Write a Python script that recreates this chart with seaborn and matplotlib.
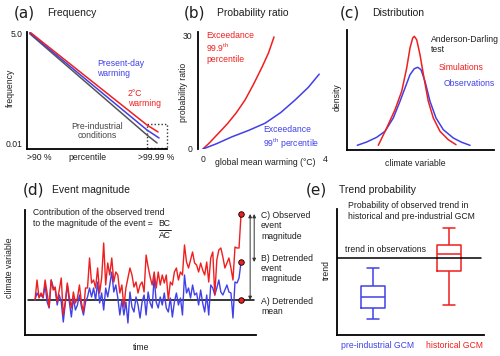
import pandas as pd
import matplotlib
matplotlib.use("Agg")
import matplotlib.pyplot as plt
from matplotlib.lines import Line2D
from matplotlib.patches import Rectangle
from matplotlib.ticker import NullLocator
import seaborn as sns

RED = "#f01e1e"
BLUE = "#4040e8"
GREY = "#555555"
INK = "#1e1e1e"

# (a) frequency vs percentile, log scale
pct_red = [0.02, 0.857, 0.936]
freq_red = [5.3, 0.0288, 0.0195]
pct_blue = [0.02, 0.857, 0.943]
freq_blue = [5.0, 0.0218, 0.0139]
pct_grey = [0.02, 0.857, 0.929]
freq_grey = [4.8, 0.0164, 0.0105]
pct_ticks = [0.086, 0.43, 0.92]
pct_labels = [">90 %", "percentile", ">99.99 %"]
freq_ticks = [0.01, 5.0]
freq_labels = ["0.01", "5.0"]

# (b) probability ratio vs global mean warming
gmw_red = [0, 0.2, 0.4, 0.6, 0.82, 1.1, 1.38, 1.65, 1.94, 2.15, 2.33]
pr_red = [0, 1.5, 3.2, 4.9, 6.8, 9.6, 12.9, 16.9, 21.6, 25.3, 29.5]
gmw_blue = [0, 0.45, 0.95, 1.5, 2.04, 2.55, 3.02, 3.45, 3.81]
pr_blue = [0, 1.4, 3.2, 4.9, 6.8, 9.6, 12.9, 16.2, 19.7]

# (c) distributions
var_sim = [3.13, 3.97, 4.80, 5.47, 5.97, 6.30, 6.57, 6.73, 6.97, 7.30, 7.70,
           8.13, 8.63, 9.30, 10.13, 10.90]
dens_sim = [0.47, 2.20, 4.03, 5.87, 8.20, 10.20, 11.20, 11.37, 11.03, 9.53, 7.20,
            4.87, 3.20, 1.87, 1.03, 0.53]
var_obs = [1.03, 1.97, 2.97, 3.80, 4.63, 5.30, 5.80, 6.30, 6.73, 7.07, 7.40,
           7.80, 8.30, 8.90, 9.63, 10.63, 11.47, 12.30]
dens_obs = [0.47, 0.80, 1.27, 1.87, 3.20, 4.87, 6.20, 7.53, 8.13, 8.27, 8.03,
            6.87, 4.87, 3.20, 2.03, 1.20, 0.77, 0.47]

# (d) observed and detrended series
observed = [0, 20, 2, 7, 3, 20, 7, -7, 20, 10, 13, -2, 10, 22, -15, -2, 17, 3, -8, 8,
            -3, 2, 15, -3, -12, 12, 12, 42, 17, 20, 12, 32, 7, 22, 57, 15, 37, 25, 42, 18,
            28, 25, 7, 15, -7, 12, 22, 32, 25, 13, 18, 7, 15,
            18, 8, 45, 33, 23, 15, 28, 12, 28, 15, 25, 17, 25, 0, 18, 15, 28, 32, 20, 28,
            25, 55, 38, 32, 40, 48, 37, 35, 28, 37, 30, 25, 38, 18, 42, 48, 5, 40, 50, 52,
            43, 32, 37, 42, 32, 20, 53, 52, 52, 86]
detrended = [0, 7, 3, 5, 2, 15, -2, -8, 20, 13, 10, -5, 5, -2, -22, -3, 15, -2, -17, 2,
             -10, -5, 5, -7, -15, -2, 3, 12, 3, 12, 0, 18, -3, 7, -10, 12, 3, 15, 28, 8,
             15, 2, -15, 0, -15, -2, -23, 8, -7, -12, 3, -5, -18,
             -2, 5, -15, 8, -3, -8, 23, -2, -8, 3, -5, 7, -8, -12, 2, -17, -2, 7, -5, 2,
             -15, 25, 7, 12, 2, 15, 5, 7, -5, 10, -3, -12, 5, -15, 15, 12, 5, 12, 20, 8,
             5, 10, 15, 8, 7, -18, 18, 17, 22, 38]
detrended_mean = 0

# (e) trend distributions in GCMs
gcm_names = ["pre-industrial GCM", "historical GCM"]
trend_preind = [1.28, 2.16, 3.04, 3.92, 5.36]
trend_hist = [2.4, 5.12, 6.48, 7.2, 8.56]
trend_obs = 6.16

sns.set_theme(style="white")
plt.rcParams["font.family"] = ["Liberation Sans", "DejaVu Sans"]
plt.rcParams["mathtext.fontset"] = "custom"
plt.rcParams["mathtext.rm"] = "Liberation Sans"
plt.rcParams["mathtext.it"] = "Liberation Sans:italic"

W, H = 500, 356
FS = 6.2
fig = plt.figure(figsize=(W / 100, H / 100), dpi=100)


def px_ax(l, t, r, b):
    return fig.add_axes([l / W, 1 - b / H, (r - l) / W, (b - t) / H])


def ftext(x, y, s, **kw):
    kw.setdefault("fontsize", FS)
    kw.setdefault("ha", "left")
    kw.setdefault("va", "center")
    kw.setdefault("color", INK)
    fig.text(x / W, 1 - y / H, s, **kw)


def style_spines(ax, sides=("left", "bottom")):
    for side, sp in ax.spines.items():
        sp.set_visible(side in sides)
        sp.set_color("black")
        sp.set_linewidth(1.3)


def title(xc, xl, y, label, text):
    ftext(xc, y, label, fontsize=11, family="DejaVu Sans", ha="center")
    ftext(xl, y, text, fontsize=7.5)


# ---- (a)
ax = px_ax(27, 32, 167, 149)
sns.lineplot(x=pct_grey, y=freq_grey, color=GREY, lw=1.1, sort=False, ax=ax)
sns.lineplot(x=pct_blue, y=freq_blue, color=BLUE, lw=1.1, sort=False, ax=ax)
sns.lineplot(x=pct_red, y=freq_red, color=RED, lw=1.1, sort=False, ax=ax)
ax.set_yscale("log")
ax.set_ylim(0.0075, 5.3)
ax.set_xlim(0, 1)
ax.yaxis.set_minor_locator(NullLocator())
ax.set_yticks(freq_ticks, freq_labels)
ax.set_xticks(pct_ticks, pct_labels)
ax.tick_params(length=0, labelsize=FS, pad=3, colors=INK)
ax.add_patch(Rectangle((0.857, 0.0079), 0.143, 0.0305 - 0.0079, fill=False,
                       ls=(0, (1, 1.5)), lw=1.0, ec="#333333", clip_on=False))
style_spines(ax)
title(24, 47, 13, "(a)", "Frequency")
ftext(10, 88, "frequency", rotation=90, ha="center")
ftext(97, 68.5, "Present-day\nwarming", color=BLUE)
ftext(128, 98.5, "2°C\nwarming", color=RED)
ftext(97.5, 131, "Pre-industrial\nconditions", color="#444444", ha="center", linespacing=1.0)

# ---- (b)
ax = px_ax(198, 32, 325, 149)
sns.lineplot(x=gmw_red, y=pr_red, color=RED, lw=1.1, sort=False, ax=ax)
sns.lineplot(x=gmw_blue, y=pr_blue, color=BLUE, lw=1.1, sort=False, ax=ax)
ax.set_xlim(-0.16, 4.0)
ax.set_ylim(0, 30.8)
ax.set_xticks([0, 4])
ax.set_yticks([0, 30])
ax.tick_params(length=0, labelsize=FS, pad=4, colors=INK)
style_spines(ax, ("left",))
title(194.5, 217, 13, "(b)", "Probability ratio")
ftext(183, 92, "probability ratio", rotation=90, ha="center")
ftext(265, 163, "global mean warming (°C)", ha="center")
ftext(206, 47.5, "Exceedance\n99.9$^{\\rm th}$\npercentile", color=RED)
ftext(263, 138, "Exceedance\n99$^{\\rm th}$ percentile", color=BLUE)

# ---- (c)
ax = px_ax(347, 30, 494, 150)
sns.lineplot(x=var_obs, y=dens_obs, color=BLUE, lw=1.1, sort=False, ax=ax)
sns.lineplot(x=var_sim, y=dens_sim, color=RED, lw=1.1, sort=False, ax=ax)
ax.set_xlim(0, 14.7)
ax.set_ylim(0, 12)
ax.set_xticks([])
ax.set_yticks([])
ax.set_xlabel("")
ax.set_ylabel("")
style_spines(ax)
title(349.5, 372, 13, "(c)", "Distribution")
ftext(337, 97, "density", rotation=90, ha="center")
ftext(415, 164, "climate variable", ha="center")
ftext(431, 44.5, "Anderson-Darling\ntest")
ftext(439, 67, "Simulations", color=RED)
ftext(444, 83, "Observations", color=BLUE)

# ---- (d)
ax = px_ax(25, 210, 256, 335)
steps = list(range(len(observed)))
ax.axhline(detrended_mean, xmin=0.013, xmax=0.99, color="black", lw=1.1)
sns.lineplot(x=steps, y=detrended, color=BLUE, lw=1.0, ax=ax)
sns.lineplot(x=steps, y=observed, color=RED, lw=1.0, ax=ax)
last = steps[-1]
sns.scatterplot(x=[last] * 3, y=[observed[-1], detrended[-1], detrended_mean],
                color=RED, edgecolor="black", linewidth=0.6, s=16, zorder=5, ax=ax)
ax.set_xlim(-4.95, 109.4)
ax.set_ylim(-35, 90)
ax.annotate("", xy=(last + 4.5, detrended_mean), xytext=(last + 4.5, observed[-1]),
            arrowprops=dict(arrowstyle="<|-|>", color="#333333", lw=0.7,
                            mutation_scale=5, shrinkA=0, shrinkB=0),
            annotation_clip=False)
ax.annotate("", xy=(last + 6.5, detrended[-1]), xytext=(last + 6.5, observed[-1]),
            arrowprops=dict(arrowstyle="<|-|>", color="#333333", lw=0.7,
                            mutation_scale=5, shrinkA=0, shrinkB=0),
            annotation_clip=False)
ax.set_xticks([])
ax.set_yticks([])
style_spines(ax)
title(33.5, 52, 190, "(d)", "Event magnitude")
ftext(10, 268, "climate variable", rotation=90, ha="center")
ftext(141, 347, "time", ha="center")
ftext(33, 212.5, "Contribution of the observed trend")
ftext(33, 223.5, "to the magnitude of the event =")
# BC / AC fraction
ftext(164.5, 223.5, "BC", ha="center")
ftext(164.5, 235.5, "AC", ha="center")
fig.add_artist(Line2D([158.5 / W, 170.5 / W], [1 - 229.5 / H, 1 - 229.5 / H],
                      color=INK, lw=0.7))
ftext(261, 226, "C) Observed\nevent\nmagnitude")
ftext(261, 268.5, "B) Detrended\nevent\nmagnitude")
ftext(261, 306.5, "A) Detrended\nmean")

# ---- (e)
ax = px_ax(337, 209, 484, 335)
df_e = pd.DataFrame({
    "gcm": [gcm_names[0]] * len(trend_preind) + [gcm_names[1]] * len(trend_hist),
    "trend": trend_preind + trend_hist,
})
sns.boxplot(data=df_e, x="gcm", y="trend", hue="gcm", palette=[BLUE, RED],
            fill=False, whis=(0, 100), width=0.32, linewidth=1.1, legend=False, ax=ax)
ax.axhline(trend_obs, xmin=0, xmax=0.98, color="black", lw=1.1)
ax.set_xlim(-0.47, 1.46)
ax.set_ylim(0, 10.08)
ax.set_xticks([])
ax.set_yticks([])
ax.set_xlabel("")
ax.set_ylabel("")
style_spines(ax)
title(316.5, 339, 190, "(e)", "Trend probability")
ftext(326, 270, "trend", rotation=90, ha="center")
ftext(348, 211, "Probability of observed trend in\nhistorical and pre-industrial GCM",
      linespacing=1.15)
ftext(345, 250, "trend in observations")
ftext(378, 346, gcm_names[0], color=BLUE, ha="center")
ftext(455, 346, gcm_names[1], color=RED, ha="center")

fig.savefig("out.png", dpi=100, facecolor="white")
